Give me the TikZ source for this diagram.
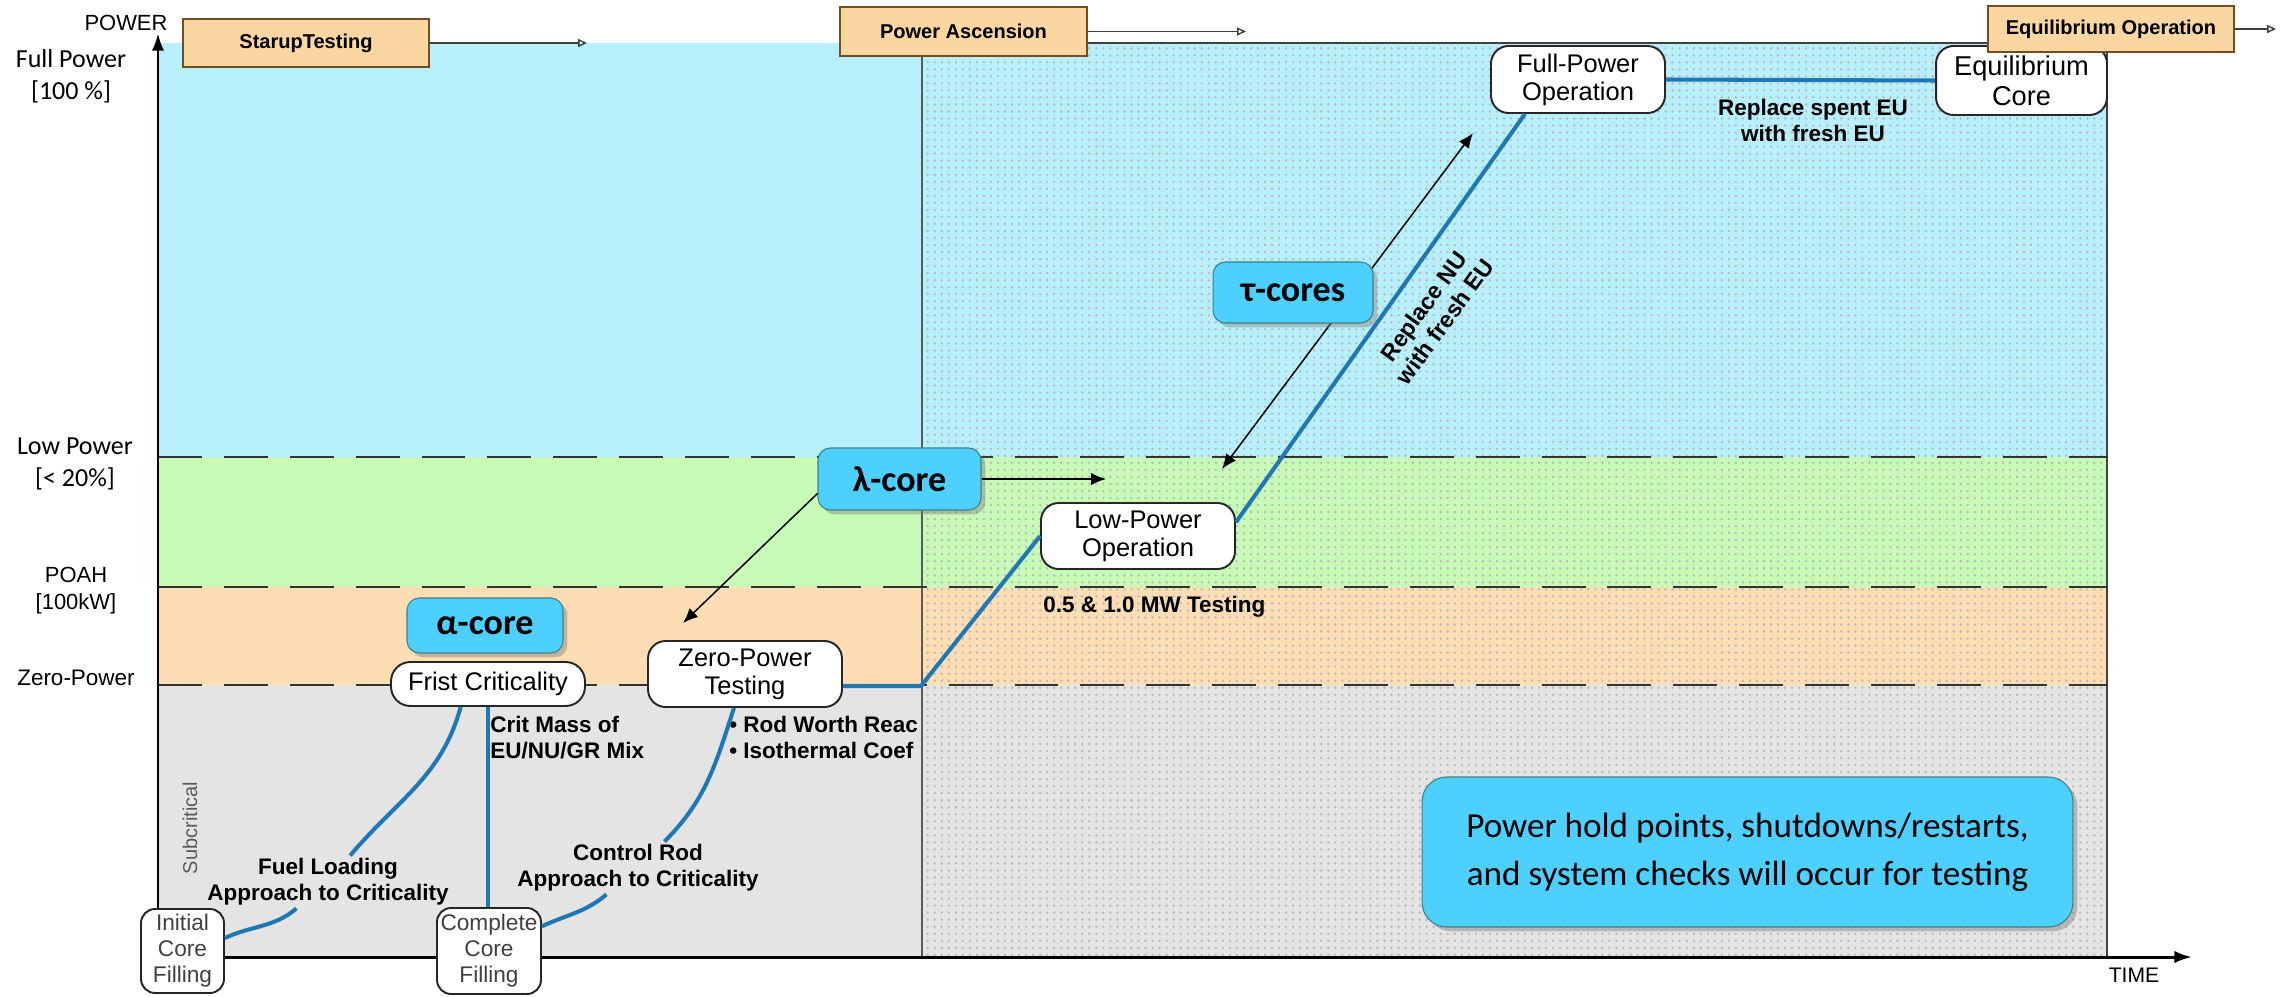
\documentclass[tikz,border=0pt]{standalone}
\usepackage{fontspec}
\setmainfont{Liberation Sans}
\newfontfamily\calibri{Carlito}
\usetikzlibrary{arrows.meta, positioning, patterns.meta, shadows}

\definecolor{bandblue}{RGB}{183,240,252}
\definecolor{bandgreen}{RGB}{199,250,182}
\definecolor{bandorange}{RGB}{252,221,180}
\definecolor{bandgray}{RGB}{228,228,228}
\definecolor{corecyan}{RGB}{77,208,255}
\definecolor{phasetan}{RGB}{250,215,160}
\definecolor{pathblue}{RGB}{31,119,180}

\tikzdeclarepattern{
  name=sparsedots,
  type=uncolored,
  bottom left={(-1pt,-1pt)},
  top right={(1pt,1pt)},
  tile size={(4pt,4pt)},
  code={\fill (0pt,0pt) circle (0.75pt);}
}

\begin{document}
\begin{tikzpicture}[
            x=0.02cm, y=-0.02cm,
            % Styles
            stage/.style={rectangle, draw=black!85, line width=1.1pt, fill=white, rounded corners=10pt, align=center, inner sep=0pt, font=\fontsize{14.5}{16}\selectfont},
            filling/.style={stage, rounded corners=8pt, text=black!75, font=\fontsize{12.9}{14.8}\selectfont},
            core/.style={rectangle, draw=teal!50!gray, line width=0.6pt, fill=corecyan, rounded corners=7pt, align=center, inner sep=0pt, font=\calibri\bfseries\fontsize{20.5}{24}\selectfont, drop shadow={shadow xshift=2.5pt, shadow yshift=-2.5pt, opacity=0.45}},
            phase/.style={rectangle, draw=brown!60!black, line width=1pt, fill=phasetan, inner sep=0pt, font=\bfseries\fontsize{11.4}{13}\selectfont},
            remark/.style={align=center, inner sep=1.5pt, font=\bfseries\fontsize{12.8}{14.8}\selectfont},
            axislabel/.style={align=center, inner sep=0pt, font=\calibri\fontsize{14.8}{18.2}\selectfont},
            pathline/.style={pathblue, line width=2.3pt},
            powerline/.style={black!80, line width=1.6pt, dash pattern=on 25pt off 12.5pt},
            phasearrow/.style={-{Triangle[open,length=5pt,width=4.5pt]}, black!75, line width=0.8pt},
            arrow/.style={line width=0.85pt},
            axis/.style={line width=1.7pt, -{Latex[length=10pt,width=7pt]}}
        ]
        \useasboundingbox (0,0) rectangle (2290,997);

        % --- BANDS ---
        \fill[bandblue] (158,43) rectangle (2107,457);
        \fill[bandgreen] (158,457) rectangle (2107,587);
        \fill[bandorange] (158,587) rectangle (2107,685);
        \fill[bandgray] (158,685) rectangle (2107,957);
        \fill[pattern=sparsedots, pattern color=black!28] (922,43) rectangle (2107,957);
        \draw[black!65, line width=0.8pt] (922,957) -- (922,43);
        \draw[black!75, line width=1.1pt] (922,43) -- (2107,43) -- (2107,957);

        % --- POWER LEVELS ---
        \foreach \yy in {457,587,685}
            \draw[powerline] (158,\yy) -- (2107,\yy);

        % --- AXES ---
        \coordinate (origin) at (158,957);
        \draw[axis] (origin) -- (158,33);
        \draw[axis] (156,957) -- (2192,957);
        \node[font=\fontsize{12.5}{14}\selectfont] (powerlbl) at (126,23) {POWER};
        \node[font=\fontsize{12}{14}\selectfont] (timelbl) at (2134,975) {TIME};
        \node[axislabel] (fullp) at (71,76) {Full Power\\{[100 \%]}};
        \node[axislabel] (lowp) at (75,464) {Low Power\\{[< 20\%]}};
        \node[align=center, inner sep=0pt, font=\fontsize{12.5}{15.4}\selectfont] (poah) at (76,591) {POAH\\{[100kW]}};
        \node[inner sep=0pt, font=\fontsize{12.8}{15}\selectfont] (zerop) at (76,678) {Zero-Power};
        \node[rotate=90, text=black!65, font=\fontsize{11.4}{13}\selectfont] (subcrit) at (190,828) {Subcritical};

        % --- TAU LINE (behind box) ---
        \coordinate (taulo) at (1222,469);
        \coordinate (tauhi) at (1473,133);
        \draw[arrow, {Latex[length=8.5pt,width=7pt]}-{Latex[length=8.5pt,width=7pt]}] (taulo) -- (tauhi);

        % --- STAGES ---
        \node[stage, minimum width=3.88cm, minimum height=0.88cm, rounded corners=11pt] (fc) at (488,684) {Frist Criticality};
        \node[stage, minimum width=3.88cm, minimum height=1.32cm] (zpt) at (745,674) {Zero-Power\\Testing};
        \node[stage, minimum width=3.88cm, minimum height=1.32cm] (lpo) at (1138,536) {Low-Power\\Operation};
        \node[stage, minimum width=3.48cm, minimum height=1.34cm] (fpo) at (1578,79.5) {Full-Power\\Operation};
        \node[stage, minimum width=3.42cm, minimum height=1.38cm, font=\fontsize{15.5}{17}\selectfont] (eqc) at (2021.5,80.5) {Equilibrium\\Core};
        \node[filling, minimum width=1.66cm, minimum height=1.68cm] (icf) at (182.5,951) {Initial\\Core\\Filling};
        \node[filling, minimum width=2.08cm, minimum height=1.72cm] (ccf) at (489,951) {Complete\\Core\\Filling};

        % --- CORES ---
        \node[core, minimum width=3.12cm, minimum height=1.10cm] (alpha) at (485,625.5) {α-core};
        \node[core, minimum width=3.26cm, minimum height=1.24cm] (lam) at (899.5,479) {λ-core};
        \node[core, minimum width=3.20cm, minimum height=1.22cm] (tau) at (1293,292.5) {τ-cores};
        \node[core, minimum width=13.02cm, minimum height=3.0cm, rounded corners=14pt, font=\calibri\fontsize{20}{27.3}\selectfont] (hold) at (1747.5,852) {Power hold points, shutdowns/restarts,\\and system checks will occur for testing};

        % --- PHASES ---
        \node[phase, minimum width=4.92cm, minimum height=0.96cm] (st) at (306,43) {StarupTesting};
        \node[phase, minimum width=4.94cm, minimum height=0.98cm] (pa) at (963.5,31.5) {Power Ascension};
        \node[phase, minimum width=4.92cm, minimum height=0.92cm] (eo) at (2111,29) {Equilibrium Operation};
        \coordinate (stend) at (587,43);
        \coordinate (paend) at (1246,31.5);
        \coordinate (eoend) at (2276,29);
        \draw[phasearrow] (st.east) -- (stend);
        \draw[phasearrow] (pa.east) -- (paend);
        \draw[phasearrow] (eo.east) -- (eoend);

        % --- LABELS ---
        \node[remark] (fuellbl) at (328,882) {Fuel Loading\\Approach to Criticality};
        \node[remark] (crlbl) at (638,868) {Control Rod\\Approach to Criticality};
        \node[remark, anchor=west, align=left, inner sep=0pt] (critmass) at (490,738) {Crit Mass of\\EU/NU/GR Mix};
        \node[remark, anchor=west, align=left, inner sep=0pt] (rodworth) at (729,737) {• Rod Worth Reac\\• Isothermal Coef};
        \node[remark, anchor=west, inner sep=0pt] (mwtest) at (1043,607) {0.5 \& 1.0 MW Testing};
        \node[remark, rotate=54, font=\bfseries\fontsize{13.2}{15}\selectfont] (replnu) at (1434,314) {Replace NU\\with fresh EU};
        \node[remark] (replspent) at (1813,120) {Replace spent EU\\with fresh EU};

        % --- MAIN PATH ---
        \coordinate (kink) at (921,686);
        \draw[pathline] (icf.17) to[out=25, in=-140] (fuellbl);
        \draw[pathline] (fuellbl) to[out=50, in=-105] (fc.220);
        \draw[pathline] (fc.south) -- (fc.south |- ccf.north);
        \draw[pathline] (ccf.25) to[out=25, in=-140] (crlbl);
        \draw[pathline] (crlbl) to[out=45, in=-108] (zpt.252);
        \draw[pathline] (zpt.east |- kink) -- (kink) -- (lpo.west);
        \draw[pathline] (lpo.8) -- (fpo.213);
        \draw[pathline] (fpo.east) -- (eqc.west);

        % --- CORE ARROWS ---
        \coordinate (lamR) at (1106,479);
        \coordinate (lamL) at (683,623);
        \draw[arrow, -{Latex[length=8.5pt,width=7pt]}] (lam.east) -- (lamR);
        \draw[arrow, -{Latex[length=8.5pt,width=7pt]}] (lam.190) -- (lamL);

        \end{tikzpicture}
\end{document}
